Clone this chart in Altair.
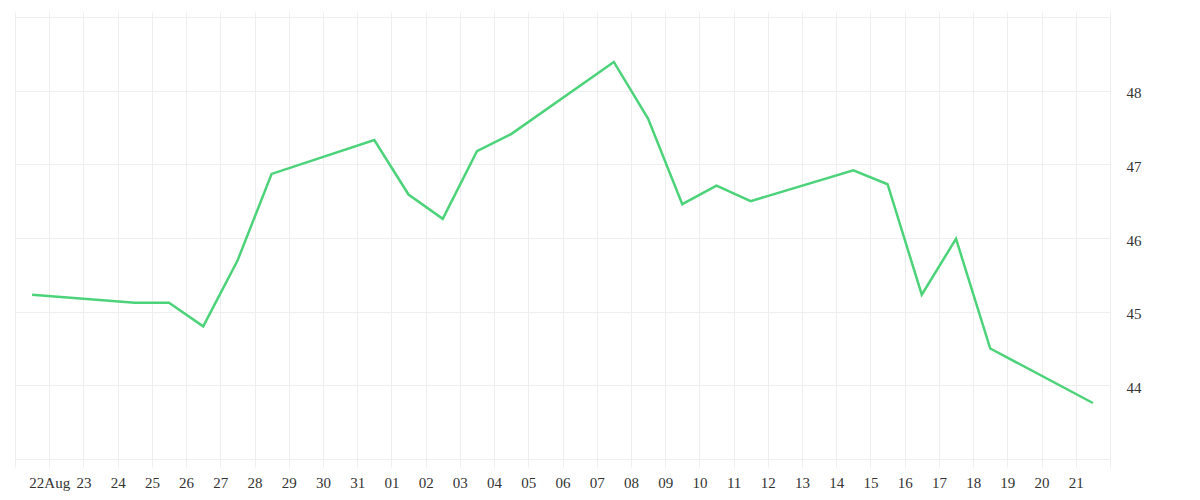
import altair as alt
import pandas as pd

dates = ["2020-08-21", "2020-08-24", "2020-08-25", "2020-08-26", "2020-08-27",
         "2020-08-28", "2020-08-31", "2020-09-01", "2020-09-02", "2020-09-03",
         "2020-09-04", "2020-09-07", "2020-09-08", "2020-09-09", "2020-09-10",
         "2020-09-11", "2020-09-14", "2020-09-15", "2020-09-16", "2020-09-17",
         "2020-09-18", "2020-09-21"]
values = [45.23, 45.12, 45.12, 44.80, 45.69, 46.87, 47.33, 46.59, 46.26, 47.18,
          47.41, 48.39, 47.62, 46.46, 46.71, 46.50, 46.92, 46.73, 45.23, 45.99,
          44.50, 43.76]
y_ticks = [43, 44, 45, 46, 47, 48, 49]
x_start = "2020-08-21"
x_end = "2020-09-22"

df = pd.DataFrame({"date": [d + "T12:00:00" for d in dates], "value": values})

tick_days = pd.date_range(x_start, x_end, freq="D")
x_vals = [alt.DateTime(year=d.year, month=d.month, date=d.day) for d in tick_days]
s = pd.Timestamp(x_start)
e = pd.Timestamp(x_end)
x_domain = [alt.DateTime(year=s.year, month=s.month, date=s.day),
            alt.DateTime(year=e.year, month=e.month, date=e.day)]

GRID = "#eeeeee"
FONT = "Liberation Serif"

label_expr = ("(month(datum.value)==7 && date(datum.value)==22) ? '22Aug' : "
              "((month(datum.value)==7 && date(datum.value)==21) || "
              "(month(datum.value)==8 && date(datum.value)==22)) ? '' : "
              "timeFormat(datum.value, '%d')")

y_axis = alt.Axis(orient="right", values=y_ticks, grid=True, gridColor=GRID,
                  ticks=False, domain=False, labelPadding=16, labelOffset=2,
                  labelExpr="(datum.value>=44 && datum.value<=48) ? datum.value : ''",
                  labelFont=FONT, labelFontSize=15, labelColor="#333333",
                  title=None)
y_enc = alt.Y("value:Q", scale=alt.Scale(domain=[43, 49], nice=False, zero=False),
              axis=y_axis)

bottom = alt.Chart(df).mark_line(color="#4cd37a", strokeWidth=2.5).encode(
    x=alt.X("date:T", scale=alt.Scale(domain=x_domain, nice=False),
            axis=alt.Axis(orient="bottom", values=x_vals, grid=True, gridColor=GRID,
                          tickColor=GRID, tickSize=8, domain=False,
                          labelPadding=8, labelExpr=label_expr, labelOverlap=False,
                          labelFlush=False, labelBound=False,
                          labelFont=FONT, labelFontSize=15, labelColor="#333333",
                          title=None)),
    y=y_enc,
)

top = alt.Chart(df).mark_line(opacity=0).encode(
    x=alt.X("date:T", scale=alt.Scale(domain=x_domain, nice=False),
            axis=alt.Axis(orient="top", values=x_vals, grid=False,
                          tickColor=GRID, tickSize=5, domain=False,
                          labels=False, title=None)),
    y=y_enc,
)

chart = alt.layer(bottom, top).resolve_axis(x="independent").properties(
    width=1095, height=442,
    autosize=alt.AutoSizeParams(type="none"),
    padding={"left": 7, "top": 9, "right": 70, "bottom": 40},
).configure_view(stroke=None)

chart.save("out.html", embed_options={"renderer": "svg", "actions": False})
